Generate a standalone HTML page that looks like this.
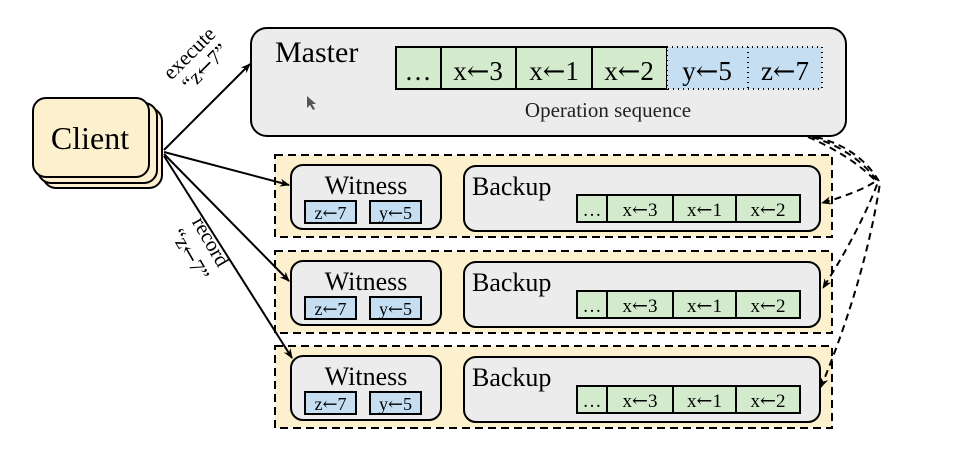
<!DOCTYPE html>
<html><head><meta charset="utf-8"><style>
html,body{margin:0;padding:0;background:#fff;}
svg{display:block;font-family:"Liberation Serif",serif;}
.a{font-family:"DejaVu Serif",serif;}
</style></head><body>
<svg width="964" height="456" viewBox="0 0 964 456" xmlns="http://www.w3.org/2000/svg">
<defs>
<marker id="ah" markerWidth="10" markerHeight="8" refX="9" refY="4" orient="auto" markerUnits="userSpaceOnUse">
<path d="M0,0 L10,4 L0,8 L3,4 Z" fill="#000"/></marker>
<g id="grp">
<rect x="275" y="155" width="557" height="82" fill="#fdf0cf" stroke="#000" stroke-width="2" stroke-dasharray="8,5"/>
<rect x="291" y="165" width="150" height="64" rx="12" fill="#ececec" stroke="#000" stroke-width="2"/>
<text x="366" y="194" font-size="26" text-anchor="middle">Witness</text>
<rect x="305" y="201" width="51" height="22" fill="#c5def2" stroke="#000" stroke-width="2"/>
<text x="330.5" y="219" font-size="18" text-anchor="middle">z<tspan class="a">←</tspan>7</text>
<rect x="370" y="201" width="51" height="22" fill="#c5def2" stroke="#000" stroke-width="2"/>
<text x="395.5" y="219" font-size="18" text-anchor="middle">y<tspan class="a">←</tspan>5</text>
<rect x="464" y="166" width="356" height="65" rx="12" fill="#ececec" stroke="#000" stroke-width="2"/>
<text x="472" y="195" font-size="26">Backup</text>
<rect x="577" y="195" width="223" height="27" fill="#d3ebcc" stroke="#000" stroke-width="2"/>
<line x1="607" y1="195" x2="607" y2="222" stroke="#000" stroke-width="2"/>
<line x1="673" y1="195" x2="673" y2="222" stroke="#000" stroke-width="2"/>
<line x1="736" y1="195" x2="736" y2="222" stroke="#000" stroke-width="2"/>
<text x="592" y="216" font-size="19" text-anchor="middle">…</text>
<text x="640" y="216" font-size="19" text-anchor="middle">x<tspan class="a">←</tspan>3</text>
<text x="704.5" y="216" font-size="19" text-anchor="middle">x<tspan class="a">←</tspan>1</text>
<text x="768" y="216" font-size="19" text-anchor="middle">x<tspan class="a">←</tspan>2</text>
</g>
</defs>
<rect x="251" y="28" width="595" height="108" rx="16" fill="#ececec" stroke="#000" stroke-width="2"/>
<text x="275" y="62" font-size="30">Master</text>
<rect x="396" y="47" width="271" height="42" fill="#d3ebcc" stroke="#000" stroke-width="2"/>
<line x1="441" y1="47" x2="441" y2="89" stroke="#000" stroke-width="2"/>
<line x1="516" y1="47" x2="516" y2="89" stroke="#000" stroke-width="2"/>
<line x1="592" y1="47" x2="592" y2="89" stroke="#000" stroke-width="2"/>
<rect x="667" y="47" width="155" height="42" fill="#c5def2" stroke="#000" stroke-width="2" stroke-dasharray="1,4"/>
<line x1="748" y1="47" x2="748" y2="89" stroke="#000" stroke-width="2" stroke-dasharray="1,4"/>
<text x="418" y="80" font-size="27" text-anchor="middle">…</text>
<text x="478" y="80" font-size="27" text-anchor="middle">x<tspan class="a">←</tspan>3</text>
<text x="554" y="80" font-size="27" text-anchor="middle">x<tspan class="a">←</tspan>1</text>
<text x="629" y="80" font-size="27" text-anchor="middle">x<tspan class="a">←</tspan>2</text>
<text x="707" y="80" font-size="27" text-anchor="middle">y<tspan class="a">←</tspan>5</text>
<text x="785" y="80" font-size="27" text-anchor="middle">z<tspan class="a">←</tspan>7</text>
<text x="608" y="117" font-size="21" text-anchor="middle" fill="#222">Operation sequence</text>
<path d="M307,96 l0,12 l3,-3 l3,5 l2,-1 l-3,-5 l4,0 Z" fill="#555"/>
<use href="#grp"/>
<use href="#grp" transform="translate(0,96)"/>
<use href="#grp" transform="translate(0,191)"/>
<rect x="43" y="108" width="119" height="80" rx="13" fill="#fdf0cf" stroke="#000" stroke-width="2"/>
<rect x="38" y="103" width="119" height="80" rx="13" fill="#fdf0cf" stroke="#000" stroke-width="2"/>
<rect x="33" y="98" width="116" height="79" rx="13" fill="#fdf0cf" stroke="#000" stroke-width="2"/>
<text x="90" y="149" font-size="32" text-anchor="middle">Client</text>
<g stroke="#000" stroke-width="2" fill="none" marker-end="url(#ah)">
<line x1="164" y1="150" x2="250" y2="64"/>
<line x1="164" y1="152" x2="289" y2="185"/>
<line x1="164" y1="154" x2="289" y2="281"/>
<line x1="164" y1="156" x2="292" y2="358"/>
</g>
<text transform="translate(194,58) rotate(-45)" font-size="21" text-anchor="middle">execute</text>
<text transform="translate(210,72) rotate(-45)" font-size="21" text-anchor="middle">“z<tspan class="a">←</tspan>7”</text>
<text transform="translate(205,245) rotate(60)" font-size="21" text-anchor="middle">record</text>
<text transform="translate(184,258) rotate(60)" font-size="21" text-anchor="middle">“z<tspan class="a">←</tspan>7”</text>
<g stroke="#000" stroke-width="2" fill="none" stroke-dasharray="7,5" marker-end="url(#ah)">
<path d="M808,137 Q850,155 876,181 Q860,192 822,203"/>
<path d="M812,137 Q855,150 878,182 Q860,230 823,288"/>
<path d="M816,137 Q860,148 880,183 Q865,280 821,387"/>
</g>
</svg>
</body></html>
